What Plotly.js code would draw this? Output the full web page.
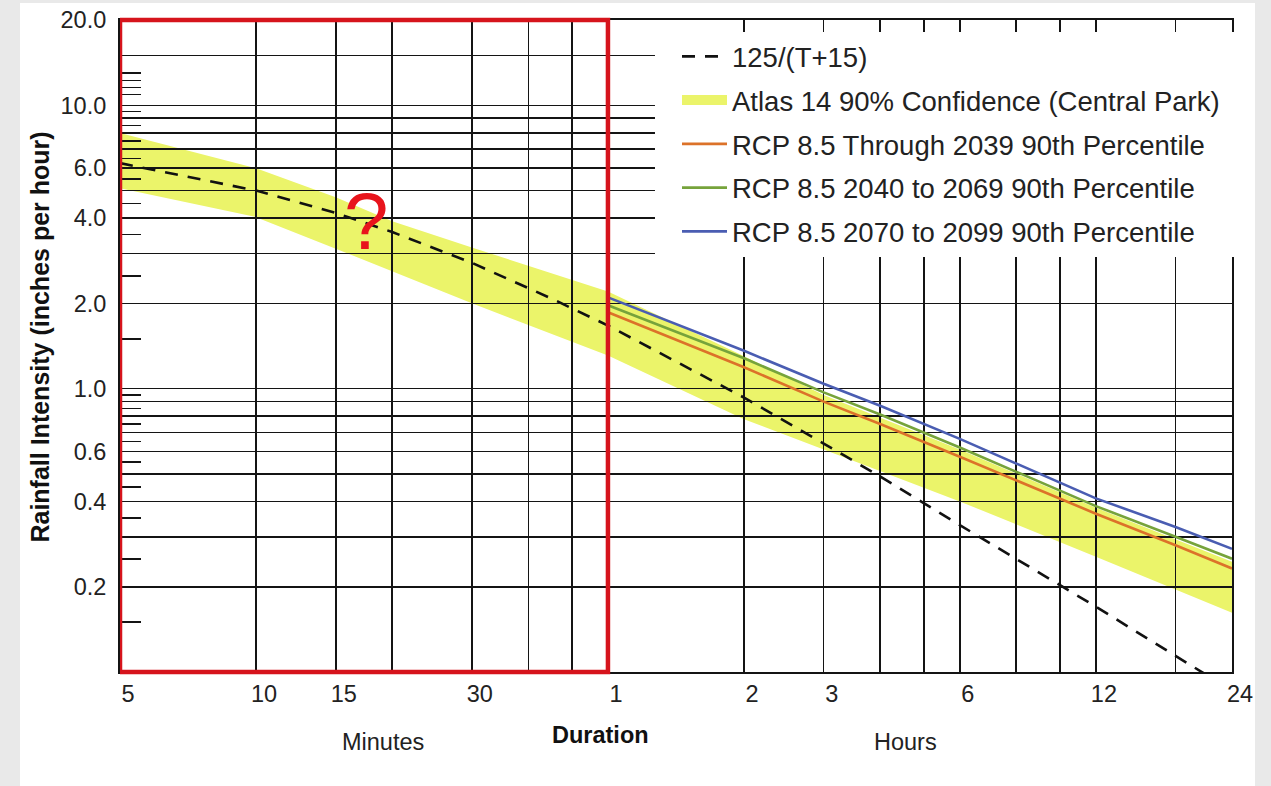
<!DOCTYPE html>
<html>
<head>
<meta charset="utf-8">
<script src="https://cdn.plot.ly/plotly-3.0.1.min.js"></script>
<style>
html,body{margin:0;padding:0;background:#e9e9e9;width:1271px;height:786px;overflow:hidden;}
#chart{position:absolute;left:20px;top:3px;width:1235px;height:783px;background:#fff;}
</style>
</head>
<body>
<div id="chart"></div>
<script>
// ---- data (durations in minutes, intensity in in/hr) ----
const dashedDur = [5, 10, 15, 20, 30, 45, 60, 90, 120, 180, 240, 360, 480, 720, 1080, 1440];
const dashedVal = [6.25, 5.0, 4.17, 3.57, 2.78, 2.08, 1.67, 1.19, 0.93, 0.64, 0.49, 0.33, 0.25, 0.17, 0.114, 0.086];

const bandDur   = [5, 10, 15, 20, 30, 60, 120, 180, 360, 720, 1440];
const bandUpper = [7.98, 6.0, 4.74, 3.9, 3.15, 2.2, 1.3, 0.95, 0.61, 0.38, 0.245];
const bandLower = [5.1, 4.03, 3.12, 2.6, 2.0, 1.31, 0.78, 0.61, 0.40, 0.255, 0.162];

const rcpDur    = [60, 120, 180, 240, 360, 720, 1080, 1440];
const rcp2039   = [1.86, 1.19, 0.90, 0.75, 0.575, 0.362, 0.28, 0.232];
const rcp2069   = [1.97, 1.28, 0.97, 0.81, 0.62, 0.385, 0.30, 0.251];
const rcp2099   = [2.10, 1.36, 1.04, 0.87, 0.665, 0.41, 0.325, 0.272];

const xGridVals  = [5, 10, 15, 20, 30, 40, 50, 60, 120, 180, 240, 300, 360, 480, 600, 720, 1080, 1440];
const xGridText  = ['5', '10', '15', '', '30', '', '', '1', '2', '3', '', '', '6', '', '', '12', '', '24'];
const yGridVals  = [0.2, 0.3, 0.4, 0.5, 0.6, 0.7, 0.8, 0.9, 1, 2, 3, 4, 5, 6, 7, 8, 9, 10, 15, 20];
const yGridText  = ['0.2', '', '0.4', '', '0.6', '', '', '', '1.0', '2.0', '', '4.0', '', '6.0', '', '', '', '10.0', '', '20.0'];
const yMinorVals = [0.15, 0.25, 0.35, 0.45, 0.55, 0.65, 0.75, 0.85, 0.95, 1.5, 2.5, 3.5, 4.5, 5.5, 6.5, 7.5, 8.5, 9.5, 10.9, 11.55, 12.25, 13.0];

const names = ['125/(T+15)', 'Atlas 14 90% Confidence (Central Park)',
  'RCP 8.5 Through 2039 90th Percentile', 'RCP 8.5 2040 to 2069 90th Percentile',
  'RCP 8.5 2070 to 2099 90th Percentile'];

const FONT = 'Liberation Sans, Arial, sans-serif';
const BAND = '#ebf46a';
const xRange = [Math.log10(5), Math.log10(1440)];
const yRange = [-1, Math.log10(20)];

const traces = [
  {x: dashedDur, y: dashedVal, xaxis: 'x2', yaxis: 'y2', mode: 'lines', name: names[0],
   legendgroup: 'g1', line: {color: '#111', width: 2.6, dash: '13px,10px'}},
  {x: bandDur, y: bandLower, xaxis: 'x', yaxis: 'y', mode: 'lines', showlegend: false,
   legendgroup: 'g2', line: {width: 0, color: 'rgba(0,0,0,0)'}, hoverinfo: 'skip'},
  {x: bandDur, y: bandUpper, xaxis: 'x', yaxis: 'y', mode: 'lines', showlegend: false,
   legendgroup: 'g2', fill: 'tonexty', fillcolor: BAND, line: {width: 0, color: BAND}},
  // legend entry for the band (no data of its own)
  {x: [null], y: [null], xaxis: 'x', yaxis: 'y', mode: 'lines', name: names[1],
   legendgroup: 'g2', line: {width: 12, color: BAND}},
  {x: rcpDur, y: rcp2039, xaxis: 'x2', yaxis: 'y2', mode: 'lines', name: names[2],
   legendgroup: 'g3', line: {color: '#dc7229', width: 2.6}},
  {x: rcpDur, y: rcp2069, xaxis: 'x2', yaxis: 'y2', mode: 'lines', name: names[3],
   legendgroup: 'g4', line: {color: '#76a33b', width: 2.6}},
  {x: rcpDur, y: rcp2099, xaxis: 'x2', yaxis: 'y2', mode: 'lines', name: names[4],
   legendgroup: 'g5', line: {color: '#4a5db2', width: 2.6}}
];

const layout = {
  width: 1235, height: 783,
  margin: {l: 100, r: 23, t: 17, b: 114},
  paper_bgcolor: '#ffffff', plot_bgcolor: 'rgba(0,0,0,0)',
  font: {family: FONT, color: '#222', size: 23.5},
  showlegend: true,
  legend: {x: 0.5009, y: 0.9816, xanchor: 'left', yanchor: 'top', bgcolor: '#ffffff',
           borderwidth: 0, font: {family: FONT, size: 27.5, color: '#222'},
           itemwidth: 45, tracegroupgap: 5, traceorder: 'grouped'},
  xaxis: {type: 'log', range: xRange, domain: [0, 1], visible: false, fixedrange: true},
  yaxis: {type: 'log', range: yRange, domain: [0, 1], visible: false, fixedrange: true},
  xaxis2: {type: 'log', range: xRange, domain: [0, 1], anchor: 'y2', fixedrange: true,
           tickmode: 'array', tickvals: xGridVals, ticktext: xGridText, ticks: '',
           showgrid: true, gridcolor: '#141414', gridwidth: 1.6,
           showline: true, mirror: true, linecolor: '#141414', linewidth: 2,
           ticklabelshift: 8, ticklabelstandoff: 0,
           tickfont: {family: FONT, size: 23.5, color: '#222'}, zeroline: false},
  yaxis2: {type: 'log', range: yRange, domain: [0, 1], anchor: 'x2', fixedrange: true,
           tickmode: 'array', tickvals: yGridVals, ticktext: yGridText, ticks: '',
           showgrid: true, gridcolor: '#141414', gridwidth: 1.6,
           showline: true, mirror: true, linecolor: '#141414', linewidth: 2,
           ticklabelstandoff: 7,
           minor: {tickmode: 'array', tickvals: yMinorVals, ticks: 'inside', ticklen: 21,
                   tickwidth: 1.6, tickcolor: '#141414', showgrid: false},
           tickfont: {family: FONT, size: 23.5, color: '#222'}},
  shapes: [
    // white backing behind the legend (hides grid there, as in the reference)
    {type: 'rect', xref: 'paper', yref: 'paper', x0: 0.4811, x1: 1.0036, y0: 0.6365, y1: 0.9816,
     line: {width: 0}, fillcolor: '#ffffff', layer: 'above'},
    {type: 'rect', xref: 'x2', yref: 'paper', x0: 5, x1: 60, y0: 0, y1: 1,
     line: {color: '#d6141c', width: 4.5}, fillcolor: 'rgba(0,0,0,0)', layer: 'above'}
  ],
  annotations: [
    {xref: 'x2', yref: 'y2', x: Math.log10(17.5), y: Math.log10(3.9), text: '?', showarrow: false,
     xanchor: 'center', yanchor: 'middle',
     font: {family: FONT, size: 80, color: '#e8141c'}},
    {xref: 'paper', yref: 'paper', x: -0.0728, y: 0.513, text: 'Rainfall Intensity (inches per hour)',
     textangle: -90, showarrow: false, xanchor: 'center', yanchor: 'middle',
     font: {family: FONT, size: 25, color: '#111', weight: 'bold'}},
    {xref: 'paper', yref: 'paper', x: 0.2365, y: -0.1074, text: 'Minutes', showarrow: false,
     xanchor: 'center', yanchor: 'middle', font: {family: FONT, size: 23.5, color: '#222'}},
    {xref: 'paper', yref: 'paper', x: 0.4317, y: -0.0966, text: 'Duration', showarrow: false,
     xanchor: 'center', yanchor: 'middle', font: {family: FONT, size: 23.5, color: '#111', weight: 'bold'}},
    {xref: 'paper', yref: 'paper', x: 0.706, y: -0.1074, text: 'Hours', showarrow: false,
     xanchor: 'center', yanchor: 'middle', font: {family: FONT, size: 23.5, color: '#222'}}
  ]
};

Plotly.newPlot('chart', traces, layout, {displayModeBar: false, staticPlot: true});
</script>
</body>
</html>
